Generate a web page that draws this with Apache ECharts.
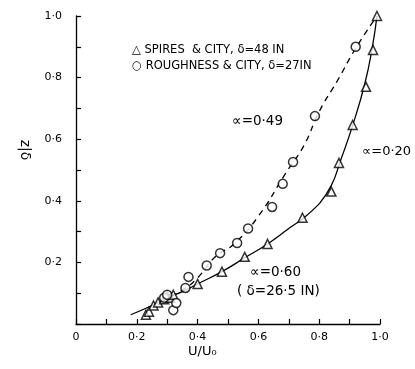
<!DOCTYPE html>
<html>
<head>
<meta charset="utf-8">
<script src="https://cdn.jsdelivr.net/npm/echarts@6/dist/echarts.min.js"></script>
<style>
  html, body { margin: 0; padding: 0; background: #fff; }
  #chart { width: 415px; height: 369px; }
</style>
</head>
<body>
<div id="chart"></div>
<script>
// 数据：三角 = spires & city，圆 = roughness & city
var spiresU = [0.23, 0.24, 0.255, 0.27, 0.29, 0.30, 0.31, 0.32, 0.40, 0.48, 0.555, 0.63, 0.745, 0.84, 0.865, 0.91, 0.954, 0.977, 0.99];
var spiresZ = [0.03, 0.04, 0.06, 0.07, 0.08, 0.09, 0.085, 0.095, 0.13, 0.17, 0.218, 0.26, 0.345, 0.43, 0.523, 0.646, 0.77, 0.89, 1.0];
var roughU = [0.29, 0.30, 0.32, 0.33, 0.36, 0.37, 0.43, 0.474, 0.53, 0.566, 0.645, 0.68, 0.714, 0.786, 0.92];
var roughZ = [0.085, 0.095, 0.045, 0.068, 0.117, 0.153, 0.19, 0.23, 0.263, 0.31, 0.38, 0.455, 0.526, 0.675, 0.90];

// 曲线
var solidLowU = [0.18, 0.25, 0.30, 0.35, 0.40, 0.48, 0.555, 0.63, 0.70, 0.75, 0.80];
var solidLowZ = [0.03, 0.06, 0.085, 0.105, 0.13, 0.17, 0.215, 0.26, 0.31, 0.345, 0.39];
var solidHighU = [0.80, 0.84, 0.87, 0.91, 0.95, 0.975, 0.99];
var solidHighZ = [0.39, 0.45, 0.53, 0.645, 0.78, 0.90, 1.0];
var dashU = [0.28, 0.35, 0.40, 0.46, 0.52, 0.60, 0.69, 0.75, 0.80, 0.86, 0.92, 0.99];
var dashZ = [0.075, 0.11, 0.15, 0.22, 0.26, 0.35, 0.49, 0.58, 0.69, 0.79, 0.895, 1.0];

var tickLabels = ['0', '0·2', '0·4', '0·6', '0·8', '1·0'];

function pairs(a, b) {
    return a.map(function (v, i) { return [v, b[i]]; });
}
function fmt(showZero) {
    return function (v) {
        var k = Math.round(v * 10);
        if (k % 2 !== 0) return '';
        if (k === 0 && !showZero) return '';
        return tickLabels[k / 2];
    };
}

var myChart = echarts.init(document.getElementById('chart'));
var font = 'DejaVu Sans';
var axisCommon = {
    type: 'value',
    min: 0,
    max: 1,
    interval: 0.1,
    splitLine: { show: false },
    axisLine: { show: true, lineStyle: { color: '#000', width: 1.3 } },
    axisTick: { show: true, inside: true, length: 5, lineStyle: { color: '#000', width: 1.2 } }
};

myChart.setOption({
    backgroundColor: '#fff',
    animation: false,
    grid: { left: 76, right: 35, top: 16, bottom: 45 },
    xAxis: Object.assign({}, axisCommon, {
        axisLabel: { formatter: fmt(true), color: '#000', fontSize: 11, fontFamily: font, margin: 8 }
    }),
    yAxis: Object.assign({}, axisCommon, {
        axisLabel: { formatter: fmt(false), color: '#000', fontSize: 11, fontFamily: font, margin: 14 }
    }),
    series: [
        {
            type: 'line', data: pairs(solidLowU, solidLowZ), smooth: true, symbol: 'none',
            lineStyle: { color: '#000', width: 1.3 }
        },
        {
            type: 'line', data: pairs(solidHighU, solidHighZ), smooth: true, symbol: 'none',
            lineStyle: { color: '#000', width: 1.3 }
        },
        {
            type: 'line', data: pairs(dashU, dashZ), smooth: true, symbol: 'none',
            lineStyle: { color: '#000', width: 1.3, type: [6, 5] }
        },
        {
            type: 'scatter', data: pairs(spiresU, spiresZ), symbol: 'triangle', symbolSize: 9,
            itemStyle: { color: '#fff', borderColor: '#000', borderWidth: 1.5 }, z: 5
        },
        {
            type: 'scatter', data: pairs(roughU, roughZ), symbol: 'circle', symbolSize: 9,
            itemStyle: { color: '#fff', borderColor: '#000', borderWidth: 1.5 }, z: 5
        }
    ],
    graphic: [
        { type: 'text', left: 132, top: 44, style: { text: '△ SPIRES  & CITY, δ=48 IN', fontSize: 11.5, fontFamily: font, fill: '#000' } },
        { type: 'text', left: 132, top: 60, style: { text: '○ ROUGHNESS & CITY, δ=27IN', fontSize: 11.5, fontFamily: font, fill: '#000' } },
        { type: 'text', left: 232, top: 114, style: { text: '∝=0·49', fontSize: 13.5, fontFamily: font, fill: '#000' } },
        { type: 'text', left: 362, top: 145, style: { text: '∝=0·20', fontSize: 13, fontFamily: font, fill: '#000' } },
        { type: 'text', left: 250, top: 265, style: { text: '∝=0·60', fontSize: 13.5, fontFamily: font, fill: '#000' } },
        { type: 'text', left: 237, top: 284, style: { text: '( δ=26·5 IN)', fontSize: 13.5, fontFamily: font, fill: '#000' } },
        { type: 'text', left: 188, top: 345, style: { text: 'U/U₀', fontSize: 13, fontFamily: font, fill: '#000' } },
        { type: 'text', x: 25, y: 150, rotation: -Math.PI / 2, style: { text: 'z|δ', fontSize: 14, fontFamily: font, fill: '#000', align: 'center', verticalAlign: 'middle' } }
    ]
});
</script>
</body>
</html>
